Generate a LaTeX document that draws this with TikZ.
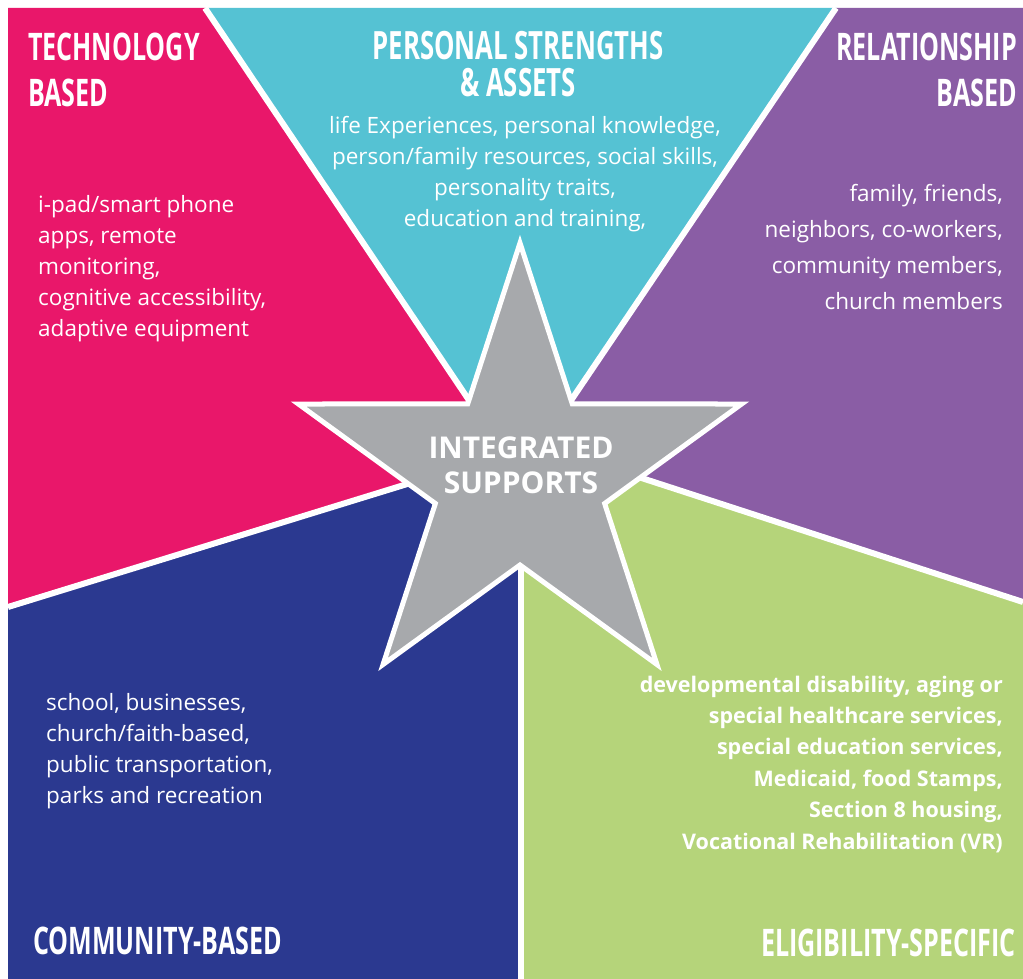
\documentclass[tikz,border=0pt]{standalone}
\usepackage{fontspec}
\setmainfont{Open Sans}
\newfontfamily\headfont[FakeStretch=0.66]{Open Sans}
\usepackage{tikz}
\usetikzlibrary{shapes.geometric}
\usepackage{xcolor}
\definecolor{techPink}{HTML}{E9176A}
\definecolor{personalCyan}{HTML}{55C2D3}
\definecolor{relPurple}{HTML}{8A5DA5}
\definecolor{commBlue}{HTML}{2B3990}
\definecolor{eligGreen}{HTML}{B5D47A}
\definecolor{hubGray}{HTML}{A7A9AC}

\begin{document}
\begin{tikzpicture}[x=1pt, y=-1pt,
    head/.style={text=white, inner sep=0pt, font=\headfont\bfseries\fontsize{38}{47}\selectfont},
    body/.style={text=white, inner sep=0pt, font=\fontsize{22.5}{31}\selectfont},
    gap/.style={draw=white, line width=6pt}]
  \useasboundingbox (0,0) rectangle (1023,979);
  \fill[white] (0,0) rectangle (1023,979);
  % the five support areas
  \coordinate (o) at (520,476);
  \fill[techPink] (8,8) -- (205,8) -- (o) -- (430,477) -- (8,607) -- cycle;
  \fill[personalCyan] (205,8) -- (836,8) -- (o) -- cycle;
  \fill[relPurple] (836,8) -- (1023,8) -- (1023,602) -- (620,471) -- (o) -- cycle;
  \fill[eligGreen] (521,979) -- (521,540) -- (o) -- (620,471) -- (1023,602) -- (1023,979) -- cycle;
  \fill[commBlue] (8,607) -- (430,477) -- (o) -- (521,540) -- (521,979) -- (8,979) -- cycle;
  % white gaps between the areas
  \draw[gap] (205,8) -- (o);
  \draw[gap] (836,8) -- (o);
  \draw[gap] (8,607) -- (430,477);
  \draw[gap] (1023,602) -- (620,471);
  \draw[gap] (521,979) -- (521,540);
  % star in the middle
  \node[star, star points=5, star point ratio=2.618, minimum size=466pt, inner sep=0pt,
        fill=hubGray, draw=white, line width=5pt] (hub) at (o) {};
  \node[text=white, inner sep=0pt, align=center, anchor=base,
        font=\bfseries\fontsize{30}{35}\selectfont] (hubtext) at (521,493) {INTEGRATED\\SUPPORTS};
  % headings (base = last line)
  \node[head, align=left, anchor=base west] (tech) at (28,107) {TECHNOLOGY\\BASED};
  \node[head, align=center, anchor=base, font=\headfont\bfseries\fontsize{39}{37}\selectfont]
        (personal) at (518,97) {PERSONAL STRENGTHS\\\& ASSETS};
  \node[head, align=right, anchor=base east] (rel) at (1017,107) {RELATIONSHIP\\BASED};
  \node[head, anchor=base west] (comm) at (33,954) {COMMUNITY-BASED};
  \node[head, anchor=base east] (elig) at (1016,956) {ELIGIBILITY-SPECIFIC};
  % lists
  \node[body, align=left, anchor=base west] (techlist) at (38,336)
        {i-pad/smart phone\\apps, remote\\monitoring,\\cognitive accessibility,\\adaptive equipment};
  \node[body, align=center, anchor=base] (personallist) at (525,226)
        {life Experiences, personal knowledge,\\person/family resources, social skills,\\personality traits,\\education and training,};
  \node[body, align=right, anchor=base east, font=\fontsize{22.5}{36}\selectfont] (rellist) at (1003,309)
        {family, friends,\\neighbors, co-workers,\\community members,\\church members};
  \node[body, align=left, anchor=base west] (commlist) at (46,803)
        {school, businesses,\\church/faith-based,\\public transportation,\\parks and recreation};
  \node[body, align=right, anchor=base east, font=\bfseries\fontsize{21.5}{31.4}\selectfont] (eliglist) at (1003,849)
        {developmental disability, aging or\\special healthcare services,\\special education services,\\Medicaid, food Stamps,\\Section 8 housing,\\Vocational Rehabilitation (VR)};
\end{tikzpicture}
\end{document}
